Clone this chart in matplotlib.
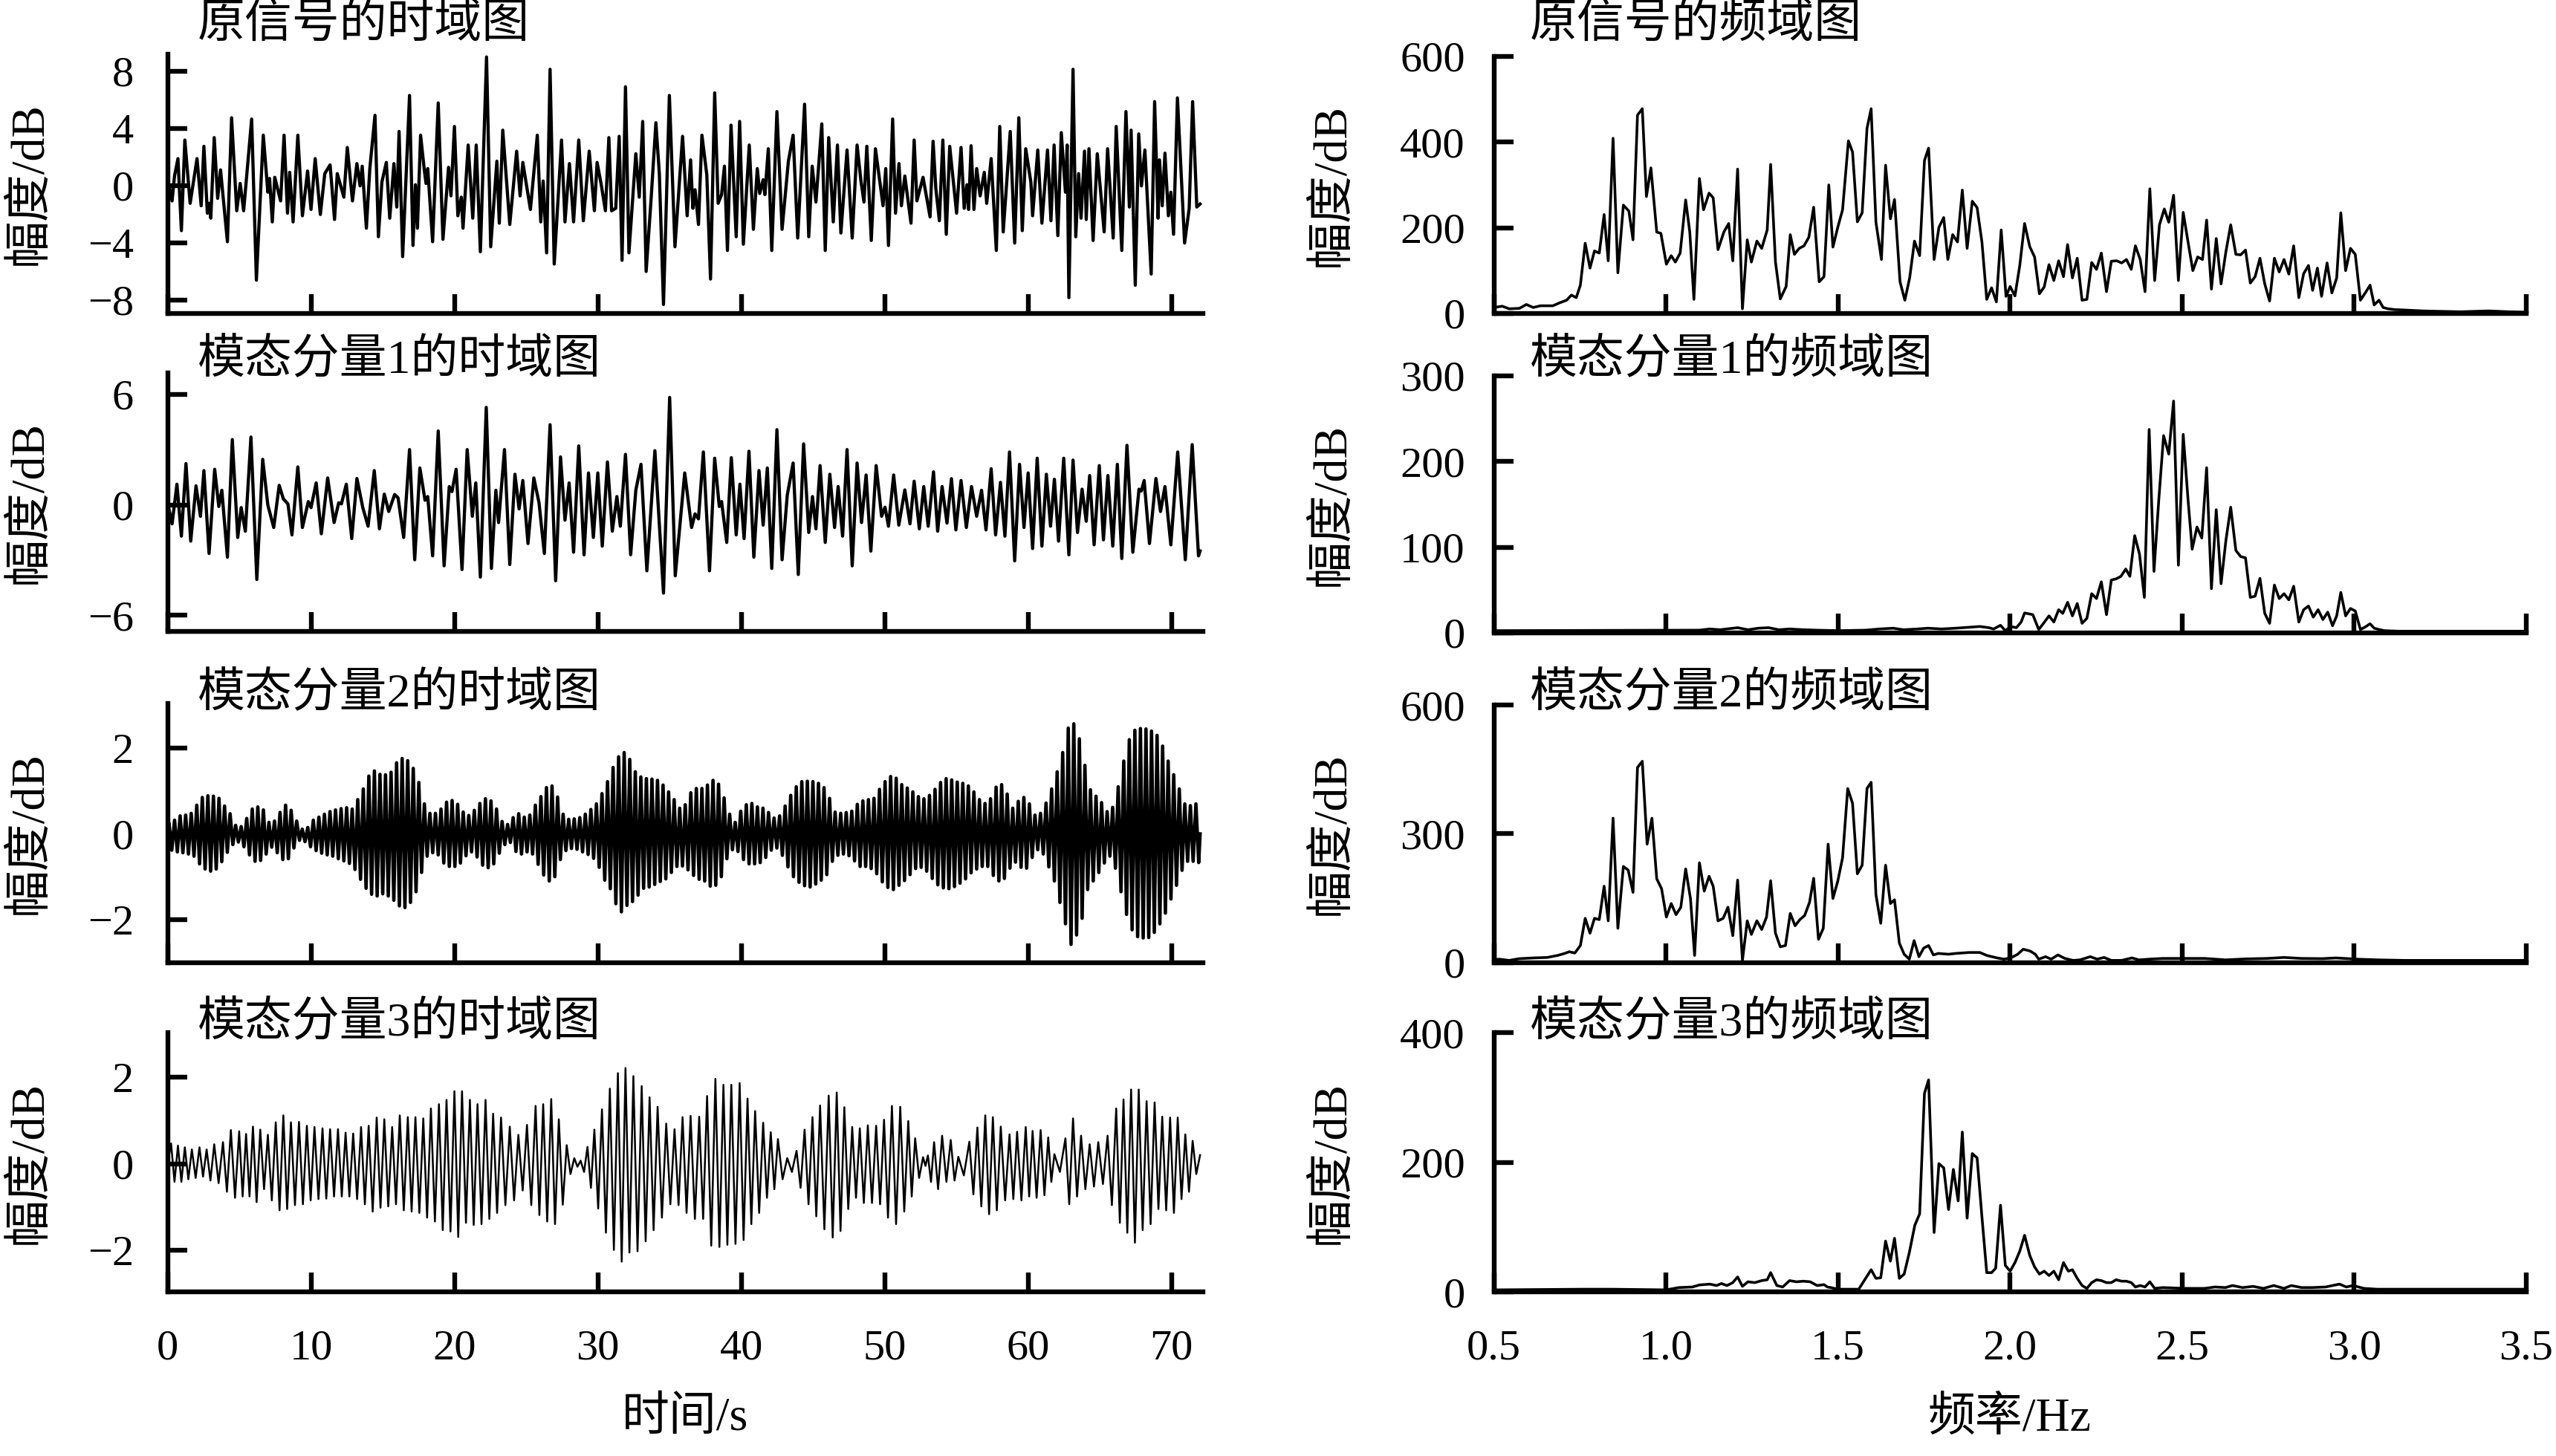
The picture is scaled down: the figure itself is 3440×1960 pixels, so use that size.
import numpy as np
import matplotlib
matplotlib.use("Agg")
import matplotlib.pyplot as plt

plt.rcParams['font.family'] = ['Liberation Serif', 'Noto Sans CJK SC']
plt.rcParams['axes.unicode_minus'] = True

# ---------------- data ----------------
# original signal: (time s, amplitude dB) turning points
orig_time = [
(0.00,0.50),(0.31,-1.08),(0.48,0.66),(0.72,1.88),(0.96,-3.16),(1.20,3.18),(1.57,-1.25),(2.05,1.88),(2.34,-1.42),(2.53,2.74),
(2.77,-1.94),(2.89,-1.25),(3.01,-2.29),(3.25,3.35),(3.49,-0.90),(3.69,1.09),(4.17,-3.94),(4.46,4.74),(4.82,-1.77),(5.06,0.14),
(5.30,-1.77),(5.86,4.65),(6.19,-6.63),(6.67,3.52),(6.99,-0.47),(7.11,0.49),(7.30,-2.55),(7.47,0.57),(7.88,-1.08),(8.12,3.52),
(8.36,-1.94),(8.51,0.92),(8.75,-2.55),(9.08,3.52),(9.40,-2.12),(9.76,1.01),(10.00,-1.68),(10.29,1.88),(10.65,-2.03),(10.96,0.83),
(11.33,1.44),(11.64,-2.38),(11.83,0.83),(12.29,-0.82),(12.53,2.66),(12.89,-1.08),(13.20,1.53),(13.42,-0.03),(13.57,1.35),(13.86,-2.99),
(14.10,1.18),(14.46,4.91),(14.70,-3.59),(14.94,0.23),(15.25,1.61),(15.49,-2.29),(15.78,1.53),(15.98,-1.51),(16.14,3.78),(16.39,-4.98),
(16.87,6.30),(17.11,-4.20),(17.28,0.05),(17.42,-2.99),(17.64,3.52),(17.90,1.09),(18.02,0.14),(18.14,1.18),(18.48,-3.94),(18.87,5.78),
(19.20,-3.77),(19.59,1.27),(19.76,-0.73),(20.00,4.13),(20.24,-2.12),(20.48,-0.82),(20.60,-2.99),(20.96,2.83),(21.28,-2.29),(21.52,2.83),
(21.81,-4.64),(22.24,8.99),(22.53,-4.29),(22.96,1.70),(23.13,-2.64),(23.37,3.87),(23.86,-2.73),(24.34,2.40),(24.58,-0.73),(24.77,1.61),
(25.30,-1.68),(25.78,3.52),(26.02,-2.55),(26.19,0.31),(26.43,-4.72),(26.67,8.13),(26.96,-5.50),(27.47,3.18),(27.71,-2.55),(28.02,1.53),
(28.31,-2.55),(28.67,3.18),(28.99,-2.47),(29.40,2.40),(29.76,-1.77),(29.95,1.61),(30.24,0.05),(30.53,-1.77),(30.77,3.35),(30.96,-1.77),
(31.25,-1.60),(31.49,3.44),(31.69,-5.24),(31.93,6.91),(32.17,-4.72),(32.65,2.22),(32.89,-0.82),(33.13,4.48),(33.37,-6.02),(33.73,-0.73),
(34.05,4.39),(34.29,0.83),(34.58,-8.33),(34.99,6.30),(35.38,-4.29),(35.91,3.44),(36.23,-2.12),(36.47,1.79),(36.63,-1.60),(36.78,-0.30),
(37.02,-2.73),(37.26,3.52),(37.60,0.75),(37.86,-6.55),(38.15,6.48),(38.39,-1.25),(38.63,-0.64),(38.83,1.35),(39.04,-4.55),(39.29,4.22),
(39.65,-3.59),(39.89,4.48),(40.15,-4.11),(40.56,2.83),(40.85,-3.07),(41.12,1.18),(41.29,-0.56),(41.53,0.40),(41.65,-0.64),(41.89,2.57),
(42.13,-4.55),(42.49,5.17),(42.85,-3.07),(43.29,1.70),(43.62,3.52),(43.94,-3.68),(44.42,5.69),(44.71,-3.59),(44.95,1.35),(45.21,-1.16),
(45.62,4.31),(45.86,-4.55),(46.10,3.35),(46.42,-2.55),(46.71,2.83),(46.95,-3.33),(47.38,2.48),(47.74,-3.68),(48.08,2.83),(48.35,0.31),
(48.56,-1.16),(48.76,2.74),(49.07,-3.85),(49.36,2.57),(49.89,-1.42),(50.08,1.18),(50.27,-4.20),(50.56,4.65),(50.76,-1.94),(51.00,1.53),
(51.17,-1.42),(51.41,0.66),(51.84,-2.64),(52.06,3.18),(52.25,-1.08),(52.68,0.57),(53.17,-2.20),(53.38,3.09),(53.57,-0.21),(53.82,-2.47),
(54.06,3.18),(54.30,-3.42),(54.54,2.74),(55.02,-1.94),(55.33,2.66),(55.55,-1.60),(55.74,0.05),(55.86,-1.68),(56.03,2.78),(56.23,-1.68),
(56.42,1.18),(56.66,-0.73),(56.95,0.92),(57.12,-1.25),(57.43,1.88),(57.79,-4.55),(58.03,4.13),(58.27,-3.25),(58.51,0.14),(58.76,3.78),
(59.07,-4.03),(59.36,4.74),(59.60,-3.16),(59.84,2.57),(60.20,0.23),(60.32,-2.12),(60.68,2.48),(60.97,-2.64),(61.36,2.48),(61.60,-2.47),
(61.82,2.83),(62.08,-3.51),(62.32,3.70),(62.61,-0.47),(62.73,2.83),(62.85,-7.85),(63.14,8.13),(63.33,-3.59),(63.53,0.83),(63.70,-2.29),
(63.94,2.40),(64.06,-2.38),(64.25,2.57),(64.54,-3.85),(64.83,2.22),(65.31,-3.25),(65.55,2.57),(65.94,-3.68),(66.15,4.13),(66.54,-4.55),
(66.83,5.17),(67.07,-1.51),(67.19,3.87),(67.48,-6.98),(67.72,3.61),(67.91,-0.03),(68.15,2.48),(68.59,-6.20),(68.83,5.87),(69.07,-2.29),
(69.17,1.79),(69.36,-1.42),(69.55,2.26),(69.79,-2.12),(69.96,-0.47),(70.15,-3.42),(70.42,6.13),(70.92,-4.03),(71.24,-1.60),(71.48,5.87),
(71.77,-1.51),(72.00,-1.30)]

# mode 1: (time s, amplitude dB) turning points
mode1_time = [
(0.00,0.10),(0.31,-1.03),(0.65,1.12),(0.96,-1.70),(1.28,2.24),(1.61,-1.97),(1.98,1.03),(2.29,-0.62),(2.53,1.86),(2.89,-2.64),
(3.28,1.93),(3.57,-0.09),(3.78,0.79),(4.17,-2.84),(4.51,3.54),(4.89,-1.77),(5.13,-0.15),(5.42,-1.43),(5.81,3.68),(6.22,-4.05),
(6.63,2.47),(6.99,-0.02),(7.40,-1.23),(7.78,1.06),(8.07,0.32),(8.39,0.05),(8.67,-1.63),(9.08,2.06),(9.40,-1.23),(9.81,0.18),
(10.00,-0.15),(10.36,1.19),(10.72,-1.57),(11.16,1.46),(11.61,-0.96),(11.93,0.11),(12.12,0.05),(12.46,1.12),(12.84,-1.83),(13.20,1.43),
(13.61,-0.15),(13.98,-1.16),(14.41,1.86),(14.77,-1.30),(15.11,0.58),(15.42,-0.36),(15.83,0.56),(16.07,0.38),(16.46,-1.77),(16.87,3.00),
(17.23,-2.98),(17.59,2.00),(17.95,0.25),(18.14,0.45),(18.48,-2.77),(18.87,4.01),(19.28,-3.31),(19.64,0.99),(19.83,0.72),(20.12,1.93),
(20.53,-3.51),(20.89,3.00),(21.25,-0.62),(21.49,1.19),(21.81,-3.92),(22.22,5.29),(22.58,-3.45),(22.89,0.79),(23.08,-0.96),(23.49,3.00),
(23.86,-3.24),(24.22,1.66),(24.51,-0.22),(24.77,1.32),(25.13,-2.10),(25.54,1.46),(25.90,0.11),(26.27,-2.64),(26.67,4.35),(27.06,-4.12),
(27.40,2.60),(27.71,-0.83),(28.00,1.19),(28.31,-2.57),(28.67,3.20),(29.04,-2.71),(29.35,1.73),(29.69,-1.77),(30.00,1.73),(30.31,-2.24),
(30.67,2.33),(31.01,-1.43),(31.33,0.45),(31.57,-1.16),(31.93,2.74),(32.29,-2.71),(32.65,0.79),(33.01,2.20),(33.42,-3.58),(33.98,2.94),
(34.58,-4.79),(35.01,5.83),(35.40,-3.85),(36.06,1.73),(36.54,-1.23),(36.78,-0.49),(37.02,-0.76),(37.36,2.87),(37.79,-3.58),(38.15,2.53),
(38.47,-0.09),(38.63,0.18),(38.99,-2.04),(39.31,2.56),(39.65,-1.63),(39.91,1.12),(40.20,-1.83),(40.54,2.91),(40.88,-2.84),(41.24,1.86),
(41.53,-1.10),(41.82,2.00),(42.13,-3.45),(42.49,4.08),(42.85,-2.98),(43.21,0.52),(43.62,2.27),(43.98,-3.78),(44.35,3.31),(44.71,-1.50),
(44.97,0.45),(45.21,-1.30),(45.50,2.13),(45.86,-2.04),(46.18,1.66),(46.51,-1.23),(46.76,0.99),(47.07,-1.70),(47.38,3.00),(47.74,-3.31),
(48.08,2.27),(48.39,-0.96),(48.71,1.62),(49.04,-2.51),(49.41,2.13),(49.79,-0.62),(50.03,-0.13),(50.27,-1.16),(50.63,1.62),(50.99,-1.10),
(51.41,0.81),(51.77,-1.03),(52.06,1.28),(52.42,-1.30),(52.73,0.99),(53.04,-1.16),(53.41,1.79),(53.70,-1.43),(54.01,0.99),(54.35,-0.99),
(54.66,1.42),(54.97,-1.36),(55.33,1.32),(55.70,-1.23),(56.06,0.99),(56.42,-0.62),(56.76,0.79),(57.07,-1.36),(57.43,1.96),(57.74,-1.63),
(58.08,1.22),(58.39,-1.70),(58.71,2.87),(59.07,-3.04),(59.41,2.20),(59.72,-1.23),(60.01,1.73),(60.32,-2.37),(60.64,2.53),(60.97,-2.24),
(61.28,1.66),(61.57,-1.16),(61.84,1.39),(62.13,-1.97),(62.49,2.53),(62.85,-2.71),(63.14,2.43),(63.45,-1.50),(63.77,0.85),(64.06,-0.89),
(64.30,1.59),(64.61,-2.17),(64.97,2.13),(65.26,-1.90),(65.57,1.59),(65.91,-2.24),(66.23,2.20),(66.54,-2.91),(66.90,3.23),(67.31,-2.57),
(67.74,0.85),(67.90,0.75),(68.10,1.32),(68.47,-2.10),(68.92,1.43),(69.24,-0.36),(69.55,0.99),(69.96,-2.17),(70.44,2.87),(70.97,-2.98),
(71.45,3.27),(71.89,-2.77),(72.00,-2.50)]

# mode 2: per-cycle crest and trough values (dB), cycles evenly spaced over 0-72 s
mode2_crest = [
0.25,0.32,0.42,0.44,0.48,0.67,0.85,0.89,0.88,0.83, 0.65,0.47,0.20,0.17,0.36,0.58,0.63,0.56,0.27,0.30,
0.50,0.67,0.55,0.30,0.11,0.15,0.32,0.39,0.46,0.52, 0.56,0.59,0.61,0.58,0.80,1.05,1.35,1.47,1.39,1.38,
1.44,1.66,1.76,1.71,1.53,1.20,0.70,0.48,0.48,0.58, 0.74,0.78,0.69,0.51,0.43,0.55,0.71,0.82,0.77,0.58,
0.29,0.22,0.38,0.47,0.39,0.44,0.67,0.87,1.08,1.12, 0.86,0.46,0.34,0.35,0.38,0.46,0.57,0.70,0.94,1.22,
1.55,1.80,1.90,1.74,1.45,1.33,1.29,1.28,1.25,1.14, 0.98,0.80,0.60,0.68,0.96,1.06,1.06,1.14,1.25,1.16,
0.84,0.46,0.27,0.53,0.68,0.71,0.63,0.60,0.50,0.37, 0.42,0.65,0.90,1.10,1.22,1.23,1.22,1.18,1.08,0.83,
0.51,0.48,0.50,0.53,0.69,0.77,0.80,0.83,1.04,1.22, 1.34,1.30,1.15,1.07,0.98,0.87,0.82,0.90,1.04,1.20,
1.29,1.26,1.21,1.18,1.12,0.98,0.80,0.71,0.82,1.09, 1.15,0.93,0.60,0.76,0.85,0.70,0.44,0.48,0.72,1.05,
1.45,1.90,2.47,2.57,2.22,1.60,1.03,0.88,0.73,0.52, 0.62,1.10,1.70,2.20,2.42,2.46,2.45,2.40,2.30,2.05,
1.70,1.38,1.05,0.70,0.66,0.70]
mode2_trough = [
-0.38,-0.42,-0.44,-0.47,-0.52,-0.70,-0.82,-0.87,-0.82,-0.65, -0.43,-0.25,-0.19,-0.30,-0.49,-0.64,-0.62,-0.47,-0.31,-0.44,
-0.60,-0.58,-0.33,-0.15,-0.18,-0.30,-0.39,-0.45,-0.49,-0.52, -0.58,-0.63,-0.69,-0.83,-1.06,-1.27,-1.41,-1.45,-1.40,-1.45,
-1.55,-1.68,-1.72,-1.60,-1.35,-0.90,-0.52,-0.44,-0.49,-0.68, -0.76,-0.76,-0.68,-0.51,-0.42,-0.54,-0.73,-0.79,-0.70,-0.45,
-0.25,-0.20,-0.41,-0.47,-0.42,-0.47,-0.71,-0.96,-1.10,-1.00, -0.60,-0.39,-0.34,-0.36,-0.42,-0.48,-0.57,-0.78,-1.08,-1.28,
-1.63,-1.82,-1.67,-1.58,-1.43,-1.27,-1.24,-1.18,-1.11,-1.05, -0.90,-0.76,-0.75,-0.84,-0.97,-1.06,-1.10,-1.22,-1.20,-1.00,
-0.58,-0.37,-0.41,-0.60,-0.70,-0.70,-0.67,-0.55,-0.38,-0.33, -0.50,-0.77,-1.00,-1.13,-1.21,-1.24,-1.17,-1.08,-0.95,-0.64,
-0.50,-0.47,-0.51,-0.63,-0.76,-0.76,-0.81,-0.93,-1.12,-1.25, -1.30,-1.20,-1.09,-0.95,-0.81,-0.78,-0.87,-1.04,-1.19,-1.26,
-1.28,-1.23,-1.15,-1.05,-0.91,-0.82,-0.76,-0.76,-0.97,-1.10, -1.04,-0.80,-0.66,-0.78,-0.80,-0.55,-0.37,-0.47,-0.77,-1.10,
-1.60,-2.10,-2.58,-2.36,-1.97,-1.30,-1.10,-0.90,-0.68,-0.52, -0.80,-1.35,-1.88,-2.24,-2.40,-2.43,-2.42,-2.30,-2.10,-1.85,
-1.52,-1.20,-0.85,-0.64,-0.64,-0.67]

# mode 3: crest times (s), crest values and the following trough values (dB)
mode3_crest_t = [
0.24,0.72,1.20,1.69,2.22,2.72,3.25,3.86,4.41,4.99, 5.47,5.95,6.46,6.99,7.54,8.07,8.60,9.16,9.71,10.24,
10.80,11.33,11.88,12.41,12.94,13.49,14.02,14.58,15.11,15.66, 16.19,16.75,17.28,17.83,18.36,18.92,19.45,20.00,20.53,21.08,
21.61,22.17,22.70,23.25,23.86,24.46,25.06,25.66,26.19,26.75, 27.28,27.83,28.36,28.80,29.28,29.76,30.29,30.84,31.40,31.93,
32.48,33.06,33.61,34.17,34.77,35.35,35.91,36.47,37.07,37.62, 38.20,38.76,39.31,39.89,40.44,40.97,41.53,42.06,42.56,43.21,
43.86,44.42,44.97,45.50,46.10,46.66,47.19,47.74,48.27,48.83, 49.41,49.96,50.51,51.09,51.65,52.13,52.68,53.02,53.45,54.01,
54.61,55.14,55.91,56.47,57.02,57.55,58.10,58.71,59.24,59.84, 60.32,60.88,61.41,61.84,62.61,63.14,63.70,64.30,64.90,65.55,
66.15,66.66,67.19,67.72,68.27,68.83,69.36,69.91,70.44,70.97, 71.48]
mode3_crest = [
0.47,0.42,0.38,0.33,0.38,0.33,0.45,0.50,0.78,0.75, 0.69,0.86,0.79,0.67,0.96,1.12,0.96,0.97,0.88,0.85,
0.82,0.80,0.80,0.72,0.70,0.85,0.88,1.07,1.03,0.85, 1.12,1.08,1.08,1.05,1.28,1.38,1.48,1.68,1.68,1.48,
1.38,1.48,1.16,1.07,0.86,0.67,0.90,1.34,1.38,1.50, 1.03,0.43,0.13,0.07,0.39,0.79,1.26,1.74,2.10,2.22,
2.03,1.80,1.54,1.32,0.93,0.80,1.08,1.11,1.09,1.57, 1.97,1.83,1.83,1.87,1.51,1.22,0.95,0.73,0.57,0.13,
0.30,0.79,1.08,1.35,1.58,1.65,1.31,0.85,0.82,0.89, 0.88,1.02,1.34,1.32,0.99,0.59,0.15,0.19,0.50,0.65,
0.55,0.16,0.51,0.84,1.12,1.08,0.86,0.68,0.74,0.85, 0.76,0.78,0.61,0.22,0.59,1.05,0.65,0.45,0.50,0.65,
1.28,1.49,1.72,1.72,1.45,1.42,1.09,1.07,1.07,0.68, 0.53]
mode3_trough = [
-0.42,-0.42,-0.36,-0.33,-0.30,-0.39,-0.45,-0.65,-0.79,-0.76, -0.76,-0.89,-0.59,-0.85,-1.08,-1.05,-0.96,-0.94,-0.85,-0.82,
-0.81,-0.76,-0.76,-0.76,-0.82,-0.94,-1.11,-1.02,-0.99,-0.94, -1.08,-1.11,-1.14,-1.25,-1.34,-1.54,-1.57,-1.70,-1.37,-1.42,
-1.40,-1.28,-1.14,-0.96,-0.85,-0.62,-0.96,-1.19,-1.34,-1.40, -0.95,-0.24,-0.07,-0.19,-0.56,-1.04,-1.60,-2.00,-2.27,-2.06,
-2.03,-1.80,-1.54,-1.25,-0.94,-0.96,-1.14,-1.28,-1.28,-1.90, -1.93,-1.88,-1.86,-1.77,-1.40,-1.14,-0.79,-0.59,-0.36,-0.19,
-0.56,-0.94,-1.22,-1.52,-1.71,-1.56,-1.05,-0.79,-0.91,-0.91, -0.94,-1.25,-1.40,-1.11,-0.76,-0.33,-0.05,-0.42,-0.59,-0.42,
-0.39,-0.27,-0.71,-0.99,-1.17,-1.08,-0.85,-0.82,-0.85,-0.76, -0.79,-0.73,-0.42,-0.19,-0.94,-0.76,-0.59,-0.53,-0.47,-0.96,
-1.37,-1.60,-1.83,-1.54,-1.40,-1.05,-1.08,-1.14,-0.82,-0.65, -0.24]

# spectra: (frequency Hz, amplitude)
orig_spec = [
(0.485,11),(0.500,14),(0.524,17),(0.544,11),(0.574,12),(0.594,21),(0.614,14),(0.635,18),(0.671,18),(0.691,25),
(0.711,31),(0.725,43),(0.739,37),(0.751,66),(0.765,164),(0.779,106),(0.792,146),(0.806,141),(0.820,231),(0.832,123),
(0.846,409),(0.860,95),(0.876,253),(0.892,239),(0.904,172),(0.917,463),(0.931,478),(0.943,273),(0.956,340),(0.973,190),
(0.985,187),(1.001,115),(1.015,135),(1.027,120),(1.041,141),(1.057,265),(1.069,190),(1.081,33),(1.097,315),(1.109,242),
(1.125,281),(1.137,270),(1.151,149),(1.168,190),(1.182,210),(1.194,123),(1.208,337),(1.222,11),(1.236,172),(1.248,120),
(1.264,169),(1.278,152),(1.294,195),(1.304,348),(1.318,120),(1.332,34),(1.349,63),(1.361,184),(1.373,138),(1.387,152),
(1.401,158),(1.415,178),(1.429,248),(1.445,74),(1.459,86),(1.473,300),(1.485,155),(1.499,201),(1.513,242),(1.530,403),
(1.542,377),(1.556,214),(1.570,235),(1.584,432),(1.596,478),(1.610,213),(1.626,126),(1.638,346),(1.652,221),(1.664,266),
(1.680,74),(1.694,31),(1.708,83),(1.722,169),(1.737,135),(1.751,357),(1.763,386),(1.779,126),(1.793,201),(1.807,224),
(1.819,126),(1.833,184),(1.847,167),(1.861,288),(1.875,152),(1.890,262),(1.904,247),(1.918,167),(1.932,33),(1.946,60),
(1.960,27),(1.974,195),(1.988,40),(2.000,63),(2.014,41),(2.028,112),(2.042,210),(2.057,156),(2.071,132),(2.085,46),
(2.099,62),(2.113,114),(2.127,77),(2.141,123),(2.155,86),(2.167,161),(2.181,83),(2.195,129),(2.209,31),(2.223,33),
(2.237,119),(2.251,103),(2.265,141),(2.280,51),(2.294,122),(2.310,123),(2.324,118),(2.338,126),(2.352,103),(2.364,158),
(2.378,126),(2.392,51),(2.406,291),(2.420,77),(2.434,207),(2.448,244),(2.461,213),(2.475,276),(2.489,77),(2.503,236),
(2.517,167),(2.531,100),(2.545,132),(2.559,126),(2.571,218),(2.585,57),(2.599,175),(2.613,69),(2.627,144),(2.641,207),
(2.656,138),(2.670,137),(2.684,148),(2.698,71),(2.712,86),(2.726,129),(2.740,69),(2.754,29),(2.768,129),(2.782,97),
(2.796,126),(2.810,92),(2.824,158),(2.839,37),(2.853,93),(2.867,112),(2.879,54),(2.893,106),(2.905,40),(2.921,118),
(2.935,48),(2.949,83),(2.961,235),(2.975,100),(2.989,152),(3.003,138),(3.018,31),(3.032,48),(3.046,66),(3.058,20),
(3.072,31),(3.084,14),(3.098,11),(3.118,9),(3.148,8),(3.199,6),(3.249,5),(3.309,4),(3.390,6),(3.450,4),(3.500,3)]

mode1_spec = [
(0.500,2.6),(1.097,3.2),(1.127,4.6),(1.157,3.7),(1.208,6.1),(1.238,3.7),(1.268,5.5),(1.298,6.1),(1.328,3.7),(1.359,4.6),
(1.399,3.7),(1.439,3.2),(1.500,2.6),(1.580,3.2),(1.620,4.6),(1.660,5.5),(1.690,3.7),(1.731,4.6),(1.761,5.5),(1.801,4.6),
(1.841,5.5),(1.881,6.6),(1.912,7.5),(1.938,6.1),(1.952,4.6),(1.972,8.9),(1.986,2.6),(2.002,7.5),(2.018,6.1),(2.032,12.7),
(2.042,23.3),(2.066,21.3),(2.083,4.0),(2.097,11.2),(2.113,19.9),(2.127,12.7),(2.141,27.1),(2.153,22.8),(2.167,35.7),(2.181,19.9),
(2.195,34.3),(2.209,11.2),(2.223,17.0),(2.237,45.8),(2.251,40.1),(2.265,59.7),(2.280,21.3),(2.294,61.7),(2.308,63.1),(2.322,66.0),
(2.336,74.6),(2.348,66.0),(2.362,113.6),(2.376,91.9),(2.390,41.5),(2.404,237.5),(2.418,71.8),(2.432,155.3),(2.446,230.3),(2.461,208.7),
(2.475,270.6),(2.489,79.0),(2.503,231.7),(2.517,155.3),(2.529,97.7),(2.543,123.6),(2.557,110.7),(2.571,192.8),(2.585,51.6),(2.599,143.8),
(2.613,57.4),(2.627,107.8),(2.641,146.7),(2.656,96.3),(2.670,89.1),(2.684,87.6),(2.698,41.5),(2.712,42.9),(2.726,63.7),(2.740,22.8),
(2.754,11.2),(2.768,55.9),(2.782,40.1),(2.796,45.8),(2.810,38.6),(2.824,54.5),(2.839,12.7),(2.853,27.1),(2.867,31.4),(2.881,18.4),
(2.895,27.1),(2.909,15.6),(2.923,24.2),(2.937,8.4),(2.949,19.9),(2.961,47.3),(2.975,19.9),(2.989,28.5),(3.003,25.6),(3.018,4.0),
(3.032,6.9),(3.046,10.7),(3.058,5.5),(3.072,4.0),(3.088,2.6),(3.128,2.0),(3.500,2.0)]

mode2_spec = [
(0.484,4.6),(0.514,7.5),(0.544,4.6),(0.574,8.7),(0.615,10.4),(0.655,11.5),(0.685,16.2),(0.705,20.8),(0.719,24.8),(0.735,21.9),
(0.751,39.2),(0.765,102.7),(0.779,68.1),(0.792,102.7),(0.806,99.8),(0.820,177.7),(0.832,96.9),(0.846,336.4),(0.860,79.6),(0.876,223.9),
(0.890,215.2),(0.904,163.3),(0.917,454.7),(0.931,469.1),(0.945,275.8),(0.959,336.4),(0.973,195.0),(0.987,171.9),(1.001,105.6),(1.015,137.3),
(1.029,111.4),(1.043,128.7),(1.057,218.1),(1.071,148.9),(1.083,16.2),(1.097,232.5),(1.111,166.2),(1.125,200.8),(1.137,177.7),(1.151,96.9),
(1.166,102.7),(1.180,128.7),(1.194,62.3),(1.208,192.1),(1.222,4.6),(1.236,96.9),(1.248,65.2),(1.264,96.9),(1.278,76.7),(1.292,105.6),
(1.304,190.4),(1.318,68.1),(1.332,36.4),(1.347,39.2),(1.361,114.2),(1.375,85.4),(1.389,99.8),(1.403,109.6),(1.417,140.2),(1.429,196.2),
(1.443,53.7),(1.457,79.6),(1.471,275.8),(1.485,148.9),(1.499,189.3),(1.513,244.1),(1.528,405.6),(1.542,371.0),(1.556,206.6),(1.570,226.8),
(1.584,405.6),(1.596,420.1),(1.610,157.5),(1.624,91.2),(1.638,226.8),(1.652,137.3),(1.664,146.0),(1.678,45.0),(1.692,19.0),(1.707,7.5),
(1.721,50.8),(1.735,13.3),(1.749,33.5),(1.763,39.2),(1.777,17.3),(1.791,20.8),(1.821,19.0),(1.841,20.8),(1.861,21.9),(1.881,23.1),
(1.912,23.1),(1.932,16.2),(1.962,10.4),(1.982,7.5),(2.002,10.4),(2.022,19.0),(2.038,30.6),(2.058,26.5),(2.073,19.0),(2.083,7.5),
(2.103,13.3),(2.119,7.5),(2.139,17.3),(2.159,9.2),(2.183,4.6),(2.203,5.8),(2.233,13.3),(2.253,7.5),(2.273,11.5),(2.294,4.6),
(2.324,4.6),(2.354,10.4),(2.374,5.8),(2.404,7.5),(2.444,9.2),(2.505,9.2),(2.565,9.2),(2.626,5.8),(2.686,8.1),(2.746,9.2),
(2.796,11.5),(2.847,9.2),(2.907,8.7),(2.947,10.4),(3.008,7.5),(3.068,5.8),(3.148,4.6),(3.249,4.6),(3.500,4.6)]

mode3_spec = [
(0.500,3.0),(0.755,4.0),(0.846,4.0),(1.000,3.0),(1.037,6.6),(1.077,7.5),(1.097,10.6),(1.127,11.9),(1.147,9.7),(1.161,12.8),
(1.177,9.7),(1.194,14.2),(1.208,23.0),(1.222,8.4),(1.238,15.5),(1.258,14.2),(1.278,17.3),(1.294,18.6),(1.304,29.6),(1.322,9.7),
(1.339,7.5),(1.359,17.3),(1.379,15.5),(1.399,16.4),(1.419,15.5),(1.439,9.7),(1.459,11.1),(1.469,7.5),(1.479,6.6),(1.499,4.0),
(1.560,4.0),(1.580,20.8),(1.596,34.1),(1.610,20.8),(1.624,21.7),(1.638,78.3),(1.652,47.3),(1.664,82.7),(1.678,20.8),(1.692,27.4),
(1.707,60.6),(1.723,102.7),(1.737,120.4),(1.751,306.2),(1.763,327.0),(1.779,91.6),(1.793,197.8),(1.807,191.2),(1.821,127.0),(1.835,188.9),
(1.849,140.3),(1.861,246.5),(1.875,113.7),(1.890,213.3),(1.904,206.6),(1.918,115.9),(1.932,29.6),(1.946,29.6),(1.958,36.3),(1.972,133.6),
(1.986,40.7),(2.000,31.9),(2.014,45.1),(2.028,62.8),(2.042,87.2),(2.057,56.2),(2.071,38.5),(2.085,27.4),(2.099,31.9),(2.113,25.2),
(2.127,31.9),(2.141,18.6),(2.155,45.1),(2.169,31.9),(2.181,34.1),(2.195,20.8),(2.209,9.7),(2.223,5.3),(2.237,14.2),(2.251,18.6),
(2.265,17.3),(2.280,14.2),(2.294,14.2),(2.308,18.6),(2.324,16.4),(2.338,16.4),(2.352,14.2),(2.364,7.5),(2.378,9.7),(2.392,7.5),
(2.406,15.5),(2.420,5.3),(2.444,6.6),(2.505,5.3),(2.565,5.3),(2.595,7.5),(2.626,6.6),(2.646,9.7),(2.676,6.6),(2.706,8.4),
(2.736,5.3),(2.766,9.7),(2.796,5.3),(2.817,9.7),(2.847,6.6),(2.877,6.6),(2.917,7.5),(2.957,11.9),(2.977,7.5),(2.997,9.7),
(3.028,5.3),(3.068,4.0),(3.500,4.0)]

left_titles = ['原信号的时域图', '模态分量1的时域图', '模态分量2的时域图', '模态分量3的时域图']
right_titles = ['原信号的频域图', '模态分量1的频域图', '模态分量2的频域图', '模态分量3的频域图']
left_yticks = [[-8, -4, 0, 4, 8], [-6, 0, 6], [-2, 0, 2], [-2, 0, 2]]
right_yticks = [[0, 200, 400, 600], [0, 100, 200, 300], [0, 300, 600], [0, 200, 400]]
time_ticks = [0, 10, 20, 30, 40, 50, 60, 70]
freq_ticks = [0.5, 1.0, 1.5, 2.0, 2.5, 3.0, 3.5]
y_label = '幅度/dB'
x_label_time = '时间/s'
x_label_freq = '频率/Hz'

# ---------------- build series ----------------
t_orig, v_orig = map(np.array, zip(*orig_time))
t_m1, v_m1 = map(np.array, zip(*mode1_time))

n2 = len(mode2_crest)
P2 = 72.0 / n2
t_m2 = [0.0]
v_m2 = [0.0]
for k in range(n2):
    t_m2 += [(k + 0.25) * P2, (k + 0.75) * P2]
    v_m2 += [mode2_crest[k], mode2_trough[k]]
t_m2.append(72.0); v_m2.append(0.0)

ct = np.array(mode3_crest_t)
nxt = np.append(ct[1:], ct[-1] + (ct[-1] - ct[-2]))
tt = (ct + nxt) / 2.0
t_m3 = [0.0]
v_m3 = [0.0]
for k in range(len(ct)):
    t_m3 += [ct[k], tt[k]]
    v_m3 += [mode3_crest[k], mode3_trough[k]]
t_m3.append(72.0); v_m3.append(0.2)

time_series = [(t_orig, v_orig, 3.1), (t_m1, v_m1, 3.1), (t_m2, v_m2, 3.3), (t_m3, v_m3, 1.8)]
spectra = [orig_spec, mode1_spec, mode2_spec, mode3_spec]

# ---------------- layout ----------------
W, H = 3440, 1960
fig = plt.figure(figsize=(W / 100, H / 100), dpi=100)
L_X = (225.6, 1619.0)
R_X = (2010.7, 3400.0)
left_rows = [(72.7, 422), (502, 850), (946.7, 1295.5), (1390, 1739)]
right_rows = [(76, 422), (506, 852), (949.3, 1295.5), (1390, 1739)]
left_ylims = [(-8.96, 9.2), (-6.87, 7.16), (-3.0, 3.05), (-2.97, 3.04)]
right_ylims = [(0, 600), (0, 300), (0, 600), (0, 400)]
title_y = [35, 485, 934, 1377]

FS_TICK = 42
FS_TXT = 46
LW_AX = 4.6


def make_ax(xr, yr):
    x0, x1 = xr
    ytop, ybot = yr
    return fig.add_axes([x0 / W, 1 - ybot / H, (x1 - x0) / W, (ybot - ytop) / H])


def style(ax):
    for s in ['top', 'right']:
        ax.spines[s].set_visible(False)
    for s in ['left', 'bottom']:
        ax.spines[s].set_linewidth(LW_AX)
    ax.tick_params(direction='in', length=19, width=LW_AX, labelsize=FS_TICK)
    ax.tick_params(axis='y', pad=33)
    ax.tick_params(axis='x', pad=36)


for i in range(4):
    # time domain
    ax = make_ax(L_X, left_rows[i])
    t, v, lw = time_series[i]
    ax.plot(t, v, color='black', lw=lw, solid_joinstyle='round')
    ax.set_xlim(0, 72.2)
    ax.set_ylim(*left_ylims[i])
    ax.set_xticks(time_ticks)
    ax.set_yticks(left_yticks[i])
    style(ax)
    if i < 3:
        ax.tick_params(labelbottom=False)
    yc = (left_rows[i][0] + left_rows[i][1]) / 2
    fig.text(40 / W, 1 - yc / H, y_label, rotation=90, ha='center', va='center', fontsize=FS_TXT)
    fig.text(266 / W, 1 - title_y[i] / H, left_titles[i], ha='left', va='center', fontsize=FS_TXT)

    # frequency domain
    ax = make_ax(R_X, right_rows[i])
    f, a = zip(*spectra[i])
    ax.plot(f, a, color='black', lw=2.6, solid_joinstyle='round')
    ax.set_xlim(0.5, 3.5)
    ax.set_ylim(*right_ylims[i])
    ax.set_xticks(freq_ticks)
    ax.set_xticklabels(['%.1f' % x for x in freq_ticks])
    ax.set_yticks(right_yticks[i])
    style(ax)
    ax.tick_params(axis='y', pad=28)
    if i < 3:
        ax.tick_params(labelbottom=False)
    yc = (right_rows[i][0] + right_rows[i][1]) / 2
    fig.text(1793 / W, 1 - yc / H, y_label, rotation=90, ha='center', va='center', fontsize=FS_TXT)
    fig.text(2059 / W, 1 - title_y[i] / H, right_titles[i], ha='left', va='center', fontsize=FS_TXT)

fig.text(922 / W, 1 - 1910 / H, x_label_time, ha='center', va='center', fontsize=FS_TXT)
fig.text(2705 / W, 1 - 1910 / H, x_label_freq, ha='center', va='center', fontsize=FS_TXT)

fig.savefig('out.png', dpi=100, facecolor='white')
